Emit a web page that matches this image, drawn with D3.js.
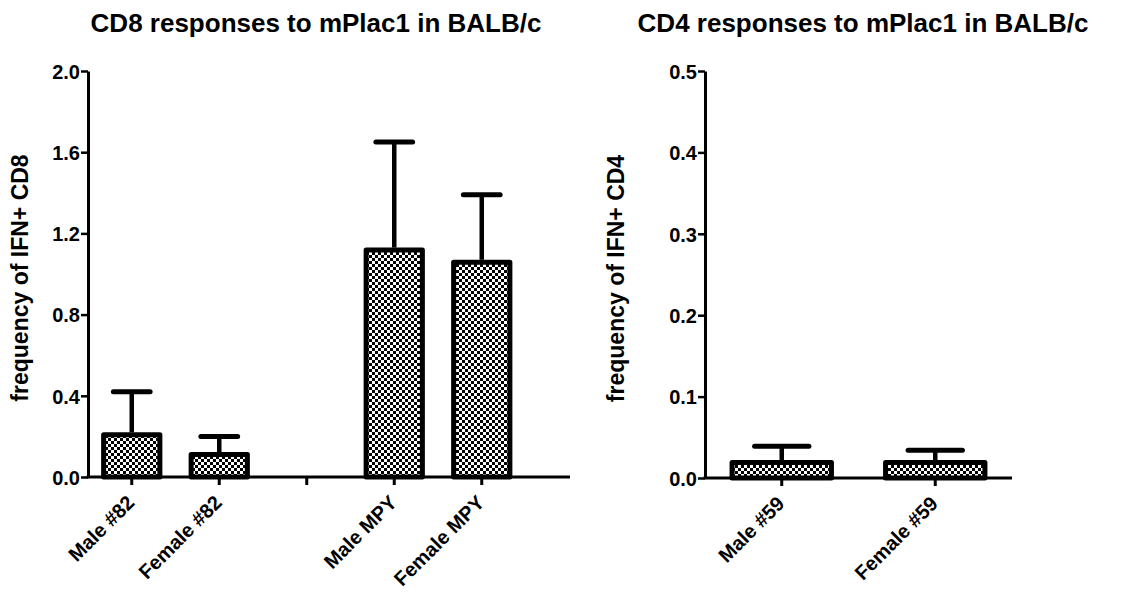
<!DOCTYPE html>
<html><head><meta charset="utf-8">
<script src="https://cdn.jsdelivr.net/npm/d3@7"></script>
<style>body{margin:0;background:#fff}svg{display:block}text{font-family:"Liberation Sans",Arial,sans-serif;font-weight:bold;fill:#000}</style>
</head><body>
<svg id="c" width="1139" height="597"></svg>
<script>
// CD8 panel
const cd8Categories = ["Male #82", "Female #82", "", "Male MPY", "Female MPY"];
const cd8Means = [0.22, 0.123, null, 1.13, 1.07];
const cd8Upper = [0.42, 0.20, null, 1.65, 1.39];
const cd8Ticks = [0.0, 0.4, 0.8, 1.2, 1.6, 2.0];
// CD4 panel
const cd4Categories = ["Male #59", "Female #59"];
const cd4Means = [0.022, 0.022];
const cd4Upper = [0.039, 0.034];
const cd4Ticks = [0.0, 0.1, 0.2, 0.3, 0.4, 0.5];

const svg = d3.select("#c");
const defs = svg.append("defs");
const pat = defs.append("pattern").attr("id","chk").attr("patternUnits","userSpaceOnUse")
  .attr("width",6).attr("height",6);
pat.append("rect").attr("width",6).attr("height",6).attr("fill","#fff");
pat.append("rect").attr("width",3).attr("height",3).attr("fill","#000");
pat.append("rect").attr("x",3).attr("y",3).attr("width",3).attr("height",3).attr("fill","#000");

function panel(opt){
  const g = svg.append("g");
  const y = d3.scaleLinear().domain([0, opt.ymax]).range([opt.y0, opt.y1]);
  const x = d3.scaleBand().domain(opt.cats.map((c,i)=>i)).range([opt.x0, opt.x1])
    .paddingInner(opt.pi).paddingOuter(opt.po);
  // title
  g.append("text").attr("x", opt.tx).attr("y", 32).attr("text-anchor","middle")
    .style("font-size","26px").text(opt.title);
  // y label
  g.append("text").attr("transform",`translate(${opt.lx},${(opt.y0+opt.y1)/2+4}) rotate(-90)`)
    .attr("text-anchor","middle").style("font-size","23px").text(opt.ylabel);
  // y axis
  const ya = g.append("g").attr("transform",`translate(${opt.x0},0)`)
    .call(d3.axisLeft(y).tickValues(opt.ticks).tickFormat(d3.format(".1f")).tickSize(7).tickSizeOuter(0));
  ya.select(".domain").attr("stroke","#000").attr("stroke-width",3);
  ya.selectAll(".tick line").attr("stroke","#000").attr("stroke-width",2.5);
  ya.selectAll(".tick text").style("font-size","20px").attr("x",-8).attr("dy","0.36em");
  // bars
  opt.means.forEach((m,i)=>{
    if(m==null) return;
    const bx = x(i), bw = x.bandwidth(), cx = bx + bw/2;
    const cw = bw*opt.capf;
    g.append("line").attr("x1",cx).attr("x2",cx).attr("y1",y(m)).attr("y2",y(opt.upper[i]))
      .attr("stroke","#000").attr("stroke-width",4.5);
    g.append("line").attr("x1",cx-cw/2).attr("x2",cx+cw/2).attr("y1",y(opt.upper[i])).attr("y2",y(opt.upper[i]))
      .attr("stroke","#000").attr("stroke-width",5).attr("stroke-linecap","round");
    g.append("rect").attr("x",bx+2.5).attr("y",y(m)+2.5).attr("width",bw-5).attr("height",y(0)-y(m)-2.5)
      .attr("fill","url(#chk)").attr("stroke","#000").attr("stroke-width",5).attr("stroke-linejoin","round");
  });
  // x axis
  g.append("line").attr("x1",opt.x0-1.5).attr("x2",opt.xend).attr("y1",y(0)).attr("y2",y(0))
    .attr("stroke","#000").attr("stroke-width",3);
  opt.cats.forEach((c,i)=>{
    const cx = x(i)+x.bandwidth()/2;
    g.append("line").attr("x1",cx).attr("x2",cx).attr("y1",y(0)).attr("y2",y(0)+8)
      .attr("stroke","#000").attr("stroke-width",3);
    if(c) g.append("text").attr("transform",`translate(${cx-6},${y(0)+17}) rotate(-45)`)
      .attr("text-anchor","end").attr("dy","0.7em").style("font-size","20px").text(c);
  });
}

panel({cats:cd8Categories, means:cd8Means, upper:cd8Upper, ticks:cd8Ticks, ymax:2.0,
  x0:88, x1:525.5, xend:570, pi:0.3, po:0.15, y0:477, y1:71, capf:0.6,
  title:"CD8 responses to mPlac1 in BALB/c", tx:316, ylabel:"frequency of IFN+ CD8", lx:28});
panel({cats:cd4Categories, means:cd4Means, upper:cd4Upper, ticks:cd4Ticks, ymax:0.5,
  x0:705, x1:1012, xend:1012, pi:0.32, po:0.16, y0:478, y1:71, capf:0.52,
  title:"CD4 responses to mPlac1 in BALB/c", tx:863, ylabel:"frequency of IFN+ CD4", lx:624});
</script>
</body></html>
